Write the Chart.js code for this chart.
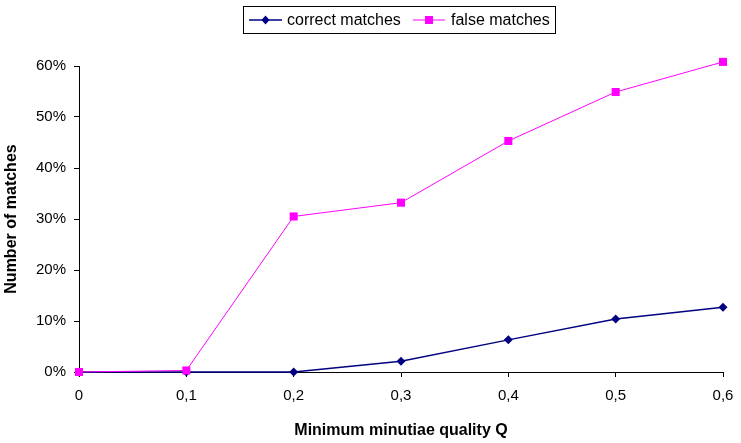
<!DOCTYPE html>
<html>
<head>
<meta charset="utf-8">
<script src="https://cdn.jsdelivr.net/npm/chart.js@4.4.0/dist/chart.umd.min.js"></script>
<style>
  html, body { margin: 0; padding: 0; background: #fff; }
  #wrap { width: 741px; height: 443px; }
</style>
</head>
<body>
<div id="wrap"><canvas id="lineChart"></canvas></div>
<script>
// quality threshold Q and share of matches (%)
var qualityQ = [0, 0.1, 0.2, 0.3, 0.4, 0.5, 0.6];
var correctMatches = [0, 0, 0, 2.1, 6.3, 10.4, 12.7];
var falseMatches = [0, 0.3, 30.5, 33.2, 45.3, 54.9, 60.8];
var seriesNames = ['correct matches', 'false matches'];
var yTicks = [0, 10, 20, 30, 40, 50, 60];

var toPoints = function (xs, ys) {
    return xs.map(function (x, i) { return { x: x, y: ys[i] }; });
};

var fontName = 'Arial, "Liberation Sans", sans-serif';

// legend with a border box, the way the old office chart shows it
var boxLegend = {
    id: 'boxLegend',
    afterDraw: function (chart) {
        var ctx = chart.ctx;
        ctx.save();
        ctx.fillStyle = '#fff';
        ctx.fillRect(243.5, 6.5, 312, 27);
        ctx.strokeStyle = '#000';
        ctx.lineWidth = 1;
        ctx.strokeRect(243.5, 6.5, 312, 27);

        var cy = 20;
        var items = [
            { x0: 249, x1: 282, text: 287, color: '#000080', shape: 'diamond' },
            { x0: 413, x1: 445, text: 451, color: '#ff00ff', shape: 'square' }
        ];
        ctx.font = '16px ' + fontName;
        ctx.textBaseline = 'middle';
        items.forEach(function (it, i) {
            var mx = (it.x0 + it.x1) / 2;
            ctx.strokeStyle = it.color;
            ctx.lineWidth = i === 0 ? 1.5 : 1;
            ctx.beginPath();
            ctx.moveTo(it.x0, cy);
            ctx.lineTo(it.x1, cy);
            ctx.stroke();
            ctx.fillStyle = it.color;
            ctx.beginPath();
            if (it.shape === 'diamond') {
                ctx.moveTo(mx, cy - 4.5);
                ctx.lineTo(mx + 4, cy);
                ctx.lineTo(mx, cy + 4.5);
                ctx.lineTo(mx - 4, cy);
                ctx.closePath();
            } else {
                ctx.rect(mx - 4, cy - 4, 8, 8);
            }
            ctx.fill();
            ctx.fillStyle = '#000';
            ctx.fillText(seriesNames[i], it.text, cy + 1);
        });
        ctx.restore();
    }
};

var ctx = document.getElementById('lineChart').getContext('2d');
var lineChart = new Chart(ctx, {
    type: 'line',
    data: {
        datasets: [{
            label: seriesNames[0],
            data: toPoints(qualityQ, correctMatches),
            borderColor: '#000080',
            backgroundColor: '#000080',
            borderWidth: 1.5,
            pointStyle: 'rectRot',
            pointRadius: 4.5,
            pointHoverRadius: 4.5,
            pointBorderWidth: 0,
            clip: false,
            order: 2
        }, {
            label: seriesNames[1],
            data: toPoints(qualityQ, falseMatches),
            borderColor: '#ff00ff',
            backgroundColor: '#ff00ff',
            borderWidth: 1,
            pointStyle: 'rect',
            pointRadius: 5.7,
            pointHoverRadius: 5.7,
            pointBorderWidth: 0,
            clip: false,
            order: 1
        }]
    },
    options: {
        responsive: true,
        maintainAspectRatio: false,
        animation: false,
        layout: { padding: { left: 0, right: 18, top: 66, bottom: 0 } },
        plugins: {
            legend: { display: false },
            tooltip: { enabled: false }
        },
        scales: {
            x: {
                type: 'linear',
                min: 0,
                max: 0.6,
                afterFit: function (s) {
                    s.height = 71;
                    s.paddingLeft = 0;
                    s.paddingRight = 0;
                },
                grid: { drawOnChartArea: false, tickLength: 5, color: '#000' },
                border: { color: '#000', width: 1 },
                ticks: {
                    stepSize: 0.1,
                    padding: 10,
                    color: '#000',
                    font: { family: fontName, size: 15 },
                    maxRotation: 0,
                    callback: function (v) {
                        return v === 0 ? '0' : v.toFixed(1).replace('.', ',');
                    }
                },
                title: {
                    display: true,
                    text: 'Minimum minutiae quality Q',
                    color: '#000',
                    font: { family: fontName, size: 16, weight: 'bold' },
                    padding: { top: 0, bottom: 3 }
                }
            },
            y: {
                min: 0,
                max: 60,
                afterFit: function (s) { s.width = 79; },
                afterBuildTicks: function (s) {
                    s.ticks = yTicks.map(function (v) { return { value: v }; });
                },
                grid: { drawOnChartArea: false, tickLength: 5, color: '#000' },
                border: { color: '#000', width: 1 },
                ticks: {
                    padding: 8,
                    color: '#000',
                    font: { family: fontName, size: 15 },
                    callback: function (v) { return v + '%'; }
                },
                title: {
                    display: true,
                    text: 'Number of matches',
                    color: '#000',
                    font: { family: fontName, size: 16, weight: 'bold' },
                    padding: { top: 2, bottom: 0 }
                }
            }
        }
    },
    plugins: [boxLegend]
});
</script>
</body>
</html>
